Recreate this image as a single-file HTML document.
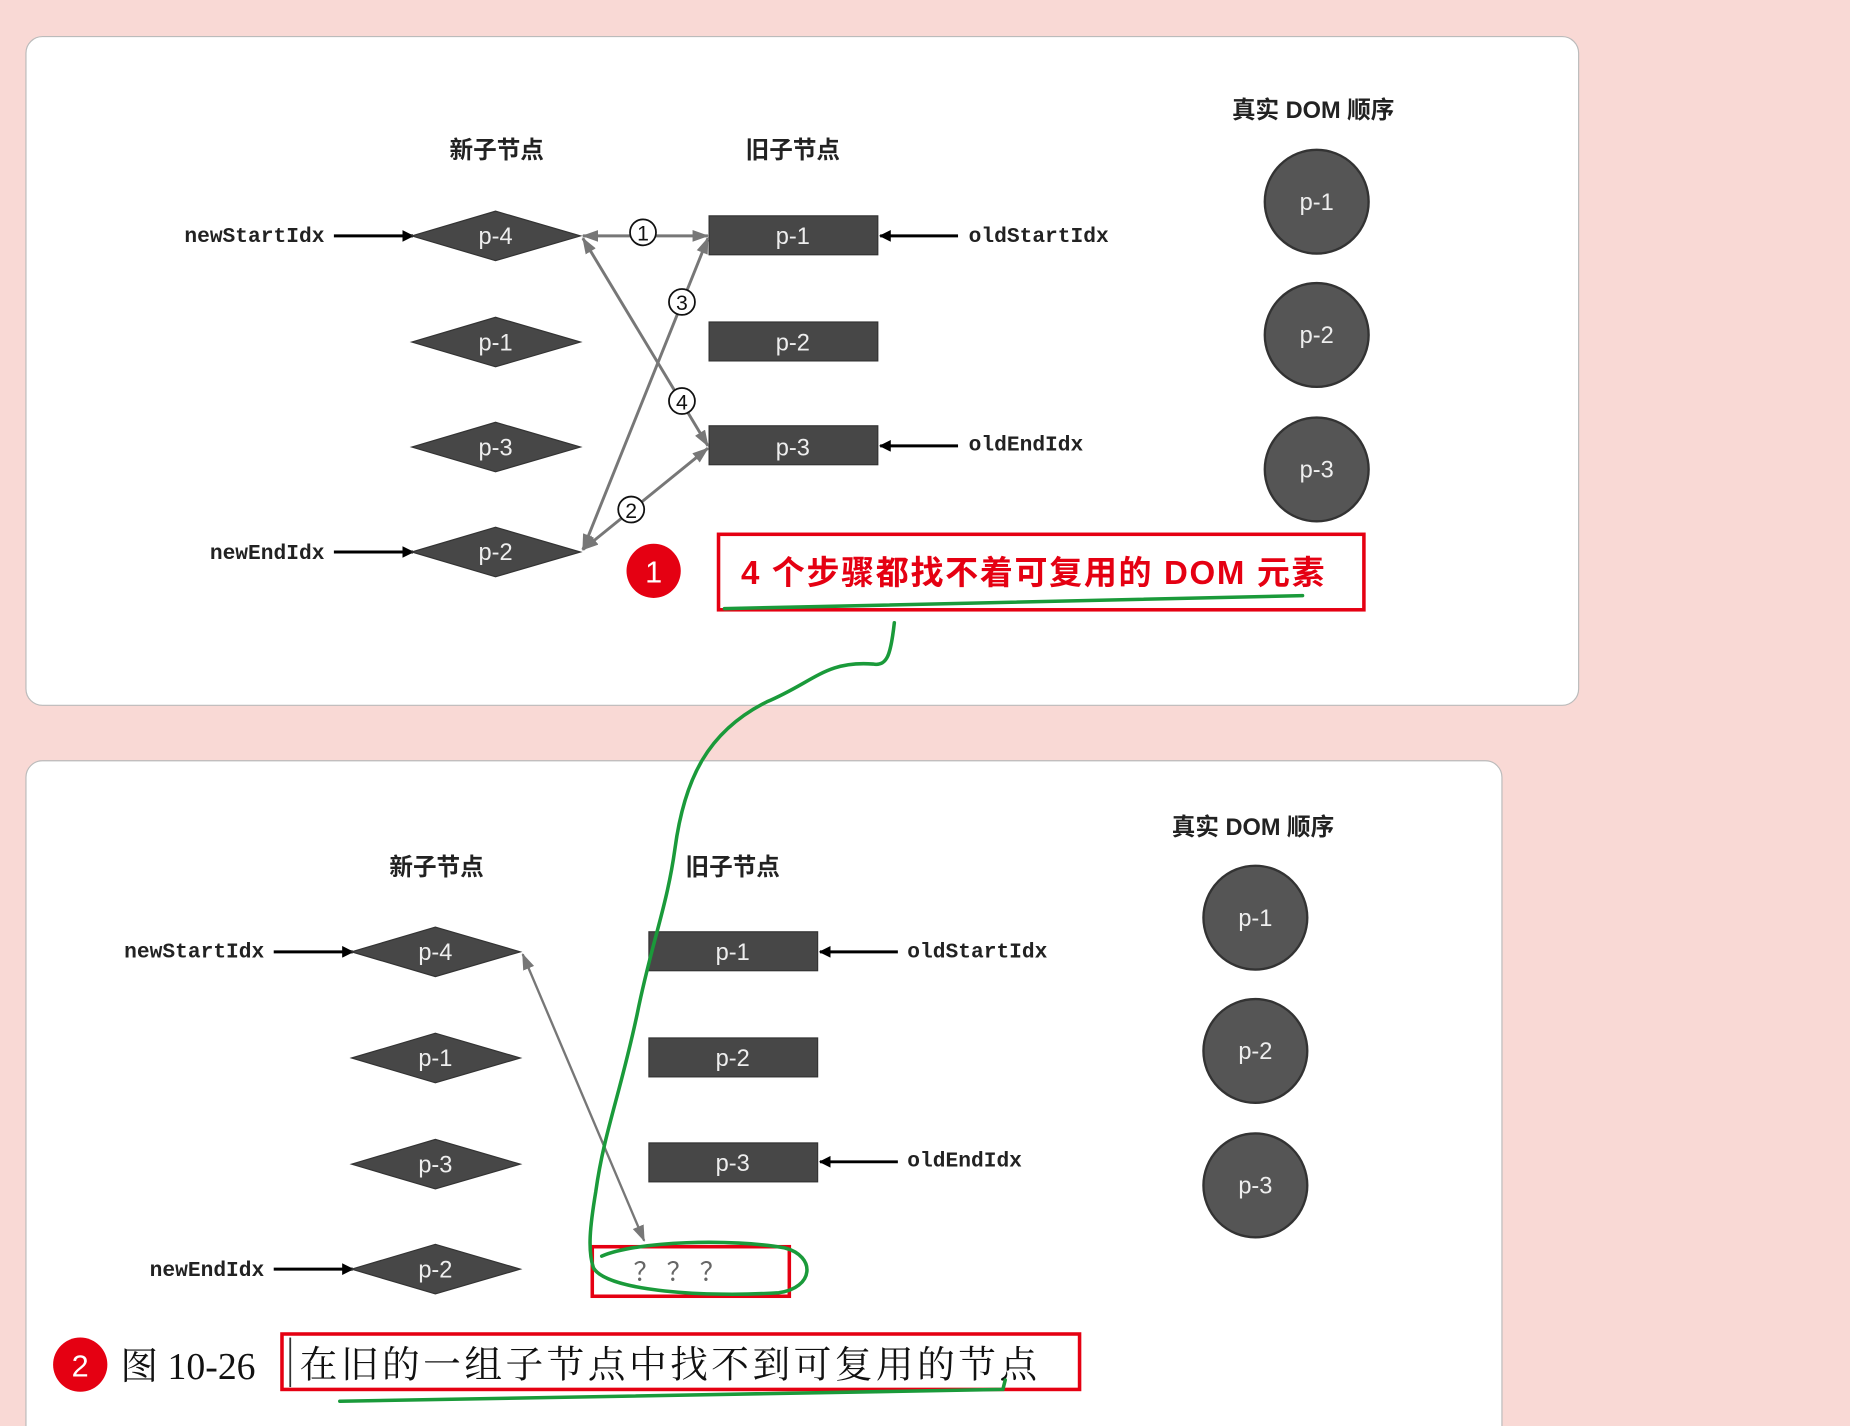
<!DOCTYPE html>
<html><head><meta charset="utf-8"><style>html,body{margin:0;padding:0;background:#f9d9d5;}svg{display:block}</style></head>
<body>
<svg width="1850" height="1426" viewBox="0 0 1568 1209" preserveAspectRatio="none" xmlns="http://www.w3.org/2000/svg" font-family="'Liberation Sans','Noto Sans CJK SC',sans-serif">
<defs>
<marker id="ab" markerWidth="10" markerHeight="10" refX="9" refY="5" orient="auto" markerUnits="userSpaceOnUse"><path d="M0,0 L10,5 L0,10 z" fill="#000"/></marker>
<marker id="ag" markerWidth="14" markerHeight="10" refX="13" refY="5" orient="auto" markerUnits="userSpaceOnUse"><path d="M0,0 L14,5 L0,10 z" fill="#777"/></marker>
<marker id="ags" markerWidth="14" markerHeight="10" refX="1" refY="5" orient="auto" markerUnits="userSpaceOnUse"><path d="M14,0 L0,5 L14,10 z" fill="#777"/></marker>
</defs>
<rect width="1568" height="1209" fill="#f9d9d5"/>
<rect x="22" y="31" width="1316" height="567" rx="14" fill="#fff" stroke="#bbb"/>
<rect x="22" y="645" width="1251" height="600" rx="14" fill="#fff" stroke="#bbb"/>

<g font-size="20" font-weight="bold" fill="#222" text-anchor="middle">
<text x="421" y="134">新子节点</text><text x="672" y="134">旧子节点</text><text x="1113" y="100">真实 DOM 顺序</text>
<text x="370" y="742">新子节点</text><text x="621" y="742">旧子节点</text><text x="1062" y="708">真实 DOM 顺序</text>
</g>
<g font-family="'Liberation Mono',monospace" font-size="18" font-weight="bold" fill="#222">
<text x="275" y="205" text-anchor="end">newStartIdx</text>
<text x="275" y="474" text-anchor="end">newEndIdx</text>
<text x="821" y="205">oldStartIdx</text>
<text x="821" y="382">oldEndIdx</text>
<text x="224" y="812" text-anchor="end">newStartIdx</text>
<text x="224" y="1082" text-anchor="end">newEndIdx</text>
<text x="769" y="812">oldStartIdx</text>
<text x="769" y="989">oldEndIdx</text>
</g>
<g stroke="#000" stroke-width="2.5" marker-end="url(#ab)">
<line x1="283" y1="200" x2="350" y2="200"/><line x1="283" y1="468" x2="350" y2="468"/>
<line x1="812" y1="200" x2="746" y2="200"/><line x1="812" y1="378" x2="746" y2="378"/>
<line x1="232" y1="807" x2="299" y2="807"/><line x1="232" y1="1076" x2="299" y2="1076"/>
<line x1="761" y1="807" x2="695" y2="807"/><line x1="761" y1="985" x2="695" y2="985"/>
</g>
<g fill="#474747" stroke="#333">
<polygon points="349,200 420,179 492,200 420,221"/><polygon points="349,290 420,269 492,290 420,311"/>
<polygon points="349,379 420,358 492,379 420,400"/><polygon points="349,468 420,447 492,468 420,489"/>
<rect x="601" y="183" width="143" height="33"/><rect x="601" y="273" width="143" height="33"/><rect x="601" y="361" width="143" height="33"/>
<polygon points="298,807 369,786 441,807 369,828"/><polygon points="298,897 369,876 441,897 369,918"/>
<polygon points="298,987 369,966 441,987 369,1008"/><polygon points="298,1076 369,1055 441,1076 369,1097"/>
<rect x="550" y="790" width="143" height="33"/><rect x="550" y="880" width="143" height="33"/><rect x="550" y="969" width="143" height="33"/>
</g>
<g fill="#555" stroke="#333" stroke-width="2">
<circle cx="1116" cy="171" r="44"/><circle cx="1116" cy="284" r="44"/><circle cx="1116" cy="398" r="44"/>
<circle cx="1064" cy="778" r="44"/><circle cx="1064" cy="891" r="44"/><circle cx="1064" cy="1005" r="44"/>
</g>
<g fill="#eee" font-size="20" text-anchor="middle">
<text x="420" y="207">p-4</text><text x="420" y="297">p-1</text><text x="420" y="386">p-3</text><text x="420" y="475">p-2</text>
<text x="672" y="207">p-1</text><text x="672" y="297">p-2</text><text x="672" y="386">p-3</text>
<text x="1116" y="178">p-1</text><text x="1116" y="291">p-2</text><text x="1116" y="405">p-3</text>
<text x="369" y="814">p-4</text><text x="369" y="904">p-1</text><text x="369" y="994">p-3</text><text x="369" y="1083">p-2</text>
<text x="621" y="814">p-1</text><text x="621" y="904">p-2</text><text x="621" y="993">p-3</text>
<text x="1064" y="785">p-1</text><text x="1064" y="898">p-2</text><text x="1064" y="1012">p-3</text>
</g>
<g stroke="#777" stroke-width="2.5" fill="none" marker-end="url(#ag)" marker-start="url(#ags)">
<line x1="494" y1="200" x2="600" y2="200"/>
<line x1="494" y1="466" x2="600" y2="380"/>
<line x1="494" y1="466" x2="600" y2="202"/>
<line x1="494" y1="202" x2="600" y2="378"/>
</g>
<line x1="443" y1="809" x2="546" y2="1052" stroke="#777" stroke-width="2" marker-end="url(#ag)" marker-start="url(#ags)"/>
<g text-anchor="middle" fill="#111">
<circle cx="545" cy="197" r="11" fill="#fff" stroke="#111" stroke-width="1.5"/><text x="545" y="204" font-size="18">1</text>
<circle cx="578" cy="256" r="11" fill="#fff" stroke="#111" stroke-width="1.5"/><text x="578" y="263" font-size="18">3</text>
<circle cx="578" cy="340" r="11" fill="#fff" stroke="#111" stroke-width="1.5"/><text x="578" y="347" font-size="18">4</text>
<circle cx="535" cy="432" r="11" fill="#fff" stroke="#111" stroke-width="1.5"/><text x="535" y="439" font-size="18">2</text>
</g>
<circle cx="554" cy="484" r="23" fill="#e50012"/><text x="554" y="494" fill="#fff" font-size="26" text-anchor="middle">1</text>
<rect x="609" y="453" width="547" height="64" fill="none" stroke="#e50012" stroke-width="3"/>
<text x="628" y="495" fill="#e50012" font-size="28" font-weight="bold" letter-spacing="1.4">4 个步骤都找不着可复用的 DOM 元素</text>
<text x="576" y="1086" fill="#666" font-size="22" text-anchor="middle">？ ？ ？</text>
<rect x="502" y="1057" width="167" height="42" fill="none" stroke="#e50012" stroke-width="3"/>
<circle cx="68" cy="1157" r="23" fill="#e50012"/><text x="68" y="1167" fill="#fff" font-size="26" text-anchor="middle">2</text>
<text x="102" y="1169" font-family="'Liberation Serif','Noto Serif CJK SC',serif" font-size="32" fill="#111">图 10-26</text>
<rect x="239" y="1131" width="676" height="47" fill="none" stroke="#e50012" stroke-width="3"/>
<line x1="246" y1="1134" x2="246" y2="1176" stroke="#333" stroke-width="1.5"/>
<text x="254" y="1168" font-family="'Liberation Serif','Noto Serif CJK SC',serif" font-size="32" fill="#111" letter-spacing="2.9">在旧的一组子节点中找不到可复用的节点</text>
<g stroke="#1a9a3a" stroke-width="3" fill="none" stroke-linecap="round">
<path d="M614,516 C800,512 1000,508 1104,505"/>
<path d="M758,528 C755,555 752,565 740,563 C700,560 690,578 650,595 C600,620 580,660 572,720 C565,770 552,800 540,860 C525,930 512,960 505,1010 C500,1040 498,1060 503,1075 C515,1095 600,1100 660,1096 C690,1092 692,1065 665,1058 C620,1050 540,1052 510,1065"/>
<path d="M288,1188 C500,1186 700,1182 850,1178 L852,1170"/>
</g>
</svg>
</body></html>
